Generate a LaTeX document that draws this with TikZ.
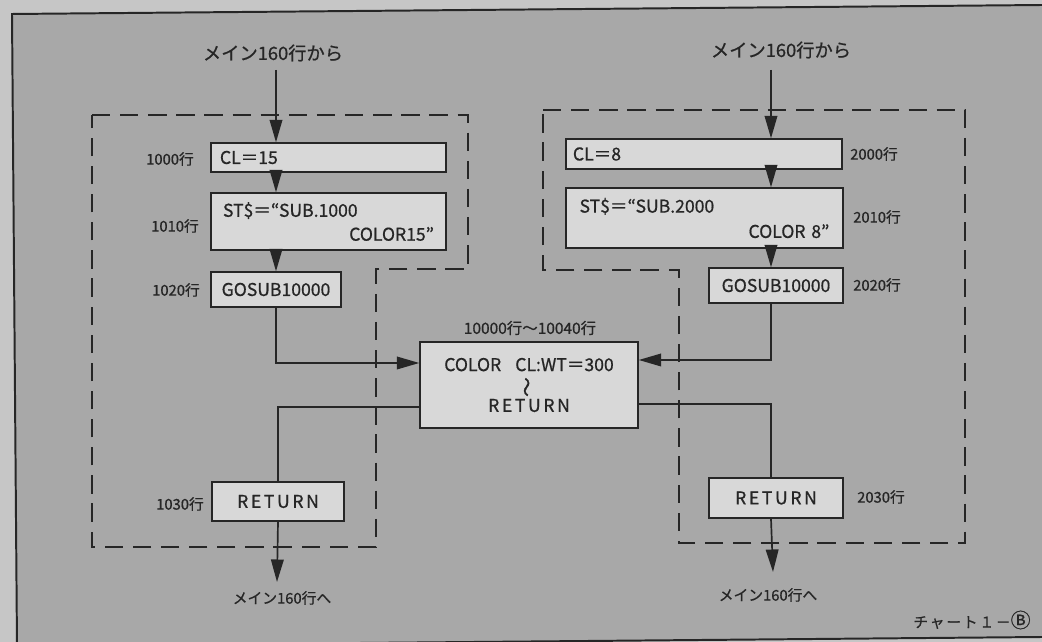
\documentclass[tikz,border=0pt]{standalone}
\usepackage{fontspec}
\usepackage{graphicx}
\setmainfont{Noto Sans CJK JP}[FakeBold=0.8]
\usetikzlibrary{arrows.meta}
\definecolor{bgout}{HTML}{C6C6C6}
\definecolor{bgin}{HTML}{A8A8A8}
\definecolor{boxfill}{HTML}{D8D8D8}
\definecolor{ink}{HTML}{262626}
\begin{document}
\begin{tikzpicture}[x=0.025cm,y=-0.025cm,
  box/.style={draw=ink,line width=1pt,fill=boxfill,text=ink,
    font=\fontsize{12.5}{16}\selectfont,inner sep=0pt},
  lab/.style={text=ink,font=\fontsize{10.5}{12}\selectfont,inner sep=0pt},
  ttl/.style={text=ink,font=\fontsize{13}{15}\selectfont,inner sep=0pt},
  conn/.style={draw=ink,line width=1.2pt},
  arr/.style={conn,-{Triangle[length=16pt,width=9pt]}},
  grp/.style={draw=ink,line width=1.3pt,dash pattern=on 13pt off 7pt},
  sp/.style={font=\fontsize{12.5}{16}\selectfont\addfontfeature{LetterSpace=15}}]
\useasboundingbox (0,0) rectangle (1042,642);
% paper and frame
\fill[bgout] (0,0) rectangle (1042,642);
\fill[bgin] (12,14) -- (1042,5) -- (1042,637) -- (17,646) -- cycle;
\draw[ink,line width=1.4pt] (1042,5) -- (12,14) -- (17,646) -- (1042,637);
% dashed groups
\draw[grp] (92,115) -- (468,115) -- (468,269) -- (376,269) -- (376,547) -- (92,547) -- cycle;
\draw[grp] (543,110) -- (965,110) -- (965,543) -- (679,543) -- (679,270) -- (543,270) -- cycle;
% column coordinates
\coordinate (col1) at (276,0);
\coordinate (col2) at (771,0);
\coordinate (in1) at (276,70);
\coordinate (in2) at (771,70);
\coordinate (out1) at (277,582);
\coordinate (out2) at (773,572);
% left boxes
\node[box,minimum width=5.875cm,minimum height=0.725cm,text width=5.425cm,inner xsep=0.225cm,align=left]
  (cl15) at (328.5,157.5) {CL＝15};
\node[box,minimum width=5.875cm,minimum height=1.425cm,text width=5.275cm,inner xsep=0.3cm,align=left]
  (st1) at (328.5,221.5) {ST\$＝“SUB.1000\\[1pt]\hspace*{\fill}COLOR15”};
\node[box,minimum width=3.25cm,minimum height=0.875cm] (gos1) at (276,289.5) {GOSUB10000};
\node[box,minimum width=3.3cm,minimum height=0.975cm,sp] (ret1) at (278,501.5) {RETURN};
% centre box
\node[box,minimum width=5.45cm,minimum height=2.15cm,align=center] (cbox) at (529,385)
  {COLOR\hspace{0.8em}CL:WT＝300\\[-1pt]\rotatebox[origin=c]{90}{\fontsize{14}{14}\selectfont 〜}\\[-2pt]{\addfontfeature{LetterSpace=15}RETURN}};
% right boxes
\node[box,minimum width=6.9cm,minimum height=0.75cm,text width=6.55cm,inner xsep=0.175cm,align=left]
  (cl8) at (704,154) {CL＝8};
\node[box,minimum width=6.925cm,minimum height=1.5cm,text width=6.245cm,inner xsep=0.34cm,align=left]
  (st2) at (704.5,218) {ST\$＝“SUB.2000\\[2pt]\hspace*{\fill}COLOR 8”};
\node[box,minimum width=3.35cm,minimum height=0.875cm] (gos2) at (776,285.5) {GOSUB10000};
\node[box,minimum width=3.35cm,minimum height=1.0cm,sp] (ret2) at (776,498) {RETURN};
% labels
\node[ttl] (t1) at (273,53) {メイン160行から};
\node[ttl] (t2) at (781,50) {メイン160行から};
\node[lab] (l1000) at (170,159) {1000行};
\node[lab] (l1010) at (175,226) {1010行};
\node[lab] (l1020) at (176,290) {1020行};
\node[lab] (l1030) at (180,504) {1030行};
\node[lab] (l2000) at (874,154) {2000行};
\node[lab] (l2010) at (877,217) {2010行};
\node[lab] (l2020) at (877,285) {2020行};
\node[lab] (l2030) at (881,497) {2030行};
\node[lab,font=\fontsize{11}{12}\selectfont] (lc) at (530,328) {10000行〜10040行};
\node[lab] (o1) at (282,598) {メイン160行へ};
\node[lab] (o2) at (768,595) {メイン160行へ};
\node[lab,font=\fontsize{10.5}{12}\selectfont\addfontfeature{LetterSpace=12}] (chart) at (972,620)
  {チャート１－\scalebox{1.35}{Ⓑ}};
% connectors left
\draw[arr] (in1) -- (col1 |- cl15.north);
\draw[arr] (col1 |- cl15.south) -- (col1 |- st1.north);
\draw[arr] (col1 |- st1.south) -- (gos1.north);
\draw[arr] (gos1.south) |- ([yshift=0.55cm]cbox.west);
\draw[conn] ([yshift=-0.55cm]cbox.west) -| (ret1.north);
\draw[arr] (ret1.south) -- (out1);
% connectors right
\draw[arr] (in2) -- (col2 |- cl8.north);
\draw[arr] (col2 |- cl8.south) -- (col2 |- st2.north);
\draw[arr] (col2 |- st2.south) -- (col2 |- gos2.north);
\draw[arr] (col2 |- gos2.south) |- ([yshift=0.625cm]cbox.east);
\draw[conn] ([yshift=-0.475cm]cbox.east) -| (col2 |- ret2.north);
\draw[arr] (col2 |- ret2.south) -- (out2);
\end{tikzpicture}
\end{document}
